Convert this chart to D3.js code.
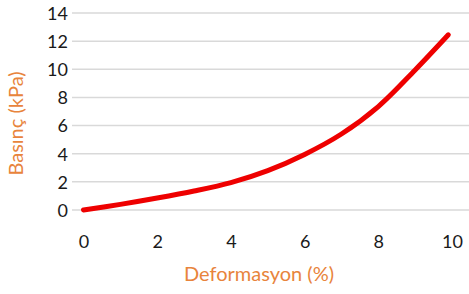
<!DOCTYPE html>
<html>
<head>
<meta charset="utf-8">
<script src="https://cdn.jsdelivr.net/npm/d3@7/dist/d3.min.js"></script>
<style>
  html, body { margin: 0; padding: 0; background: #fff; }
  svg { display: block; }
</style>
</head>
<body>
<svg id="chart" width="469" height="294"></svg>
<script>
const xValues = [0, 1, 2, 3, 4, 5, 6, 7, 8, 9, 9.9];
const pressureValues = [0, 0.4, 0.85, 1.35, 1.95, 2.8, 3.95, 5.4, 7.35, 9.95, 12.45];
const xTicks = [0, 2, 4, 6, 8, 10];
const yTicks = [0, 2, 4, 6, 8, 10, 12, 14];
const xTitle = "Deformasyon (%)";
const yTitle = "Basınç (kPa)";

const svg = d3.select("#chart");
const font = "Lato, 'Open Sans', sans-serif";

const x = d3.scaleLinear().domain([0, 10]).range([83.5, 452]);
const y = d3.scaleLinear().domain([0, 14]).range([210, 13]);

// gridlines
svg.append("g").selectAll("line").data(yTicks).join("line")
  .attr("x1", 72).attr("x2", 469)
  .attr("y1", d => y(d)).attr("y2", d => y(d))
  .attr("stroke", "#d9d9d9").attr("stroke-width", 1.5);

// y tick labels
const yAxis = d3.axisLeft(y).tickValues(yTicks).tickSize(0).tickPadding(0);
const gy = svg.append("g").attr("transform", "translate(68,0)").call(yAxis);
gy.select(".domain").remove();
gy.selectAll("text").attr("font-family", font).attr("font-size", 18).attr("fill", "#1a1a1a").attr("dy", "0.35em");

// x tick labels
const xAxis = d3.axisBottom(x).tickValues(xTicks).tickSize(0).tickPadding(0);
const gx = svg.append("g").attr("transform", "translate(0,242)").call(xAxis);
gx.select(".domain").remove();
gx.selectAll("text").attr("font-family", font).attr("font-size", 18).attr("fill", "#1a1a1a").attr("dy", "0.35em");

// line
const line = d3.line().x((d, i) => x(xValues[i])).y(d => y(d)).curve(d3.curveCatmullRom.alpha(0.5));
svg.append("path").datum(pressureValues)
  .attr("d", line)
  .attr("fill", "none").attr("stroke", "#ee0000").attr("stroke-width", 5)
  .attr("stroke-linecap", "round").attr("stroke-linejoin", "round");

// titles
svg.append("text").attr("x", 259).attr("y", 274).attr("dy", "0.35em")
  .attr("text-anchor", "middle").attr("font-family", font).attr("font-size", 20)
  .attr("fill", "#e8843c").text(xTitle);
svg.append("text").attr("transform", "translate(16,123.5) rotate(-90)").attr("dy", "0.35em")
  .attr("text-anchor", "middle").attr("font-family", font).attr("font-size", 20)
  .attr("fill", "#e8843c").text(yTitle);
</script>
</body>
</html>
